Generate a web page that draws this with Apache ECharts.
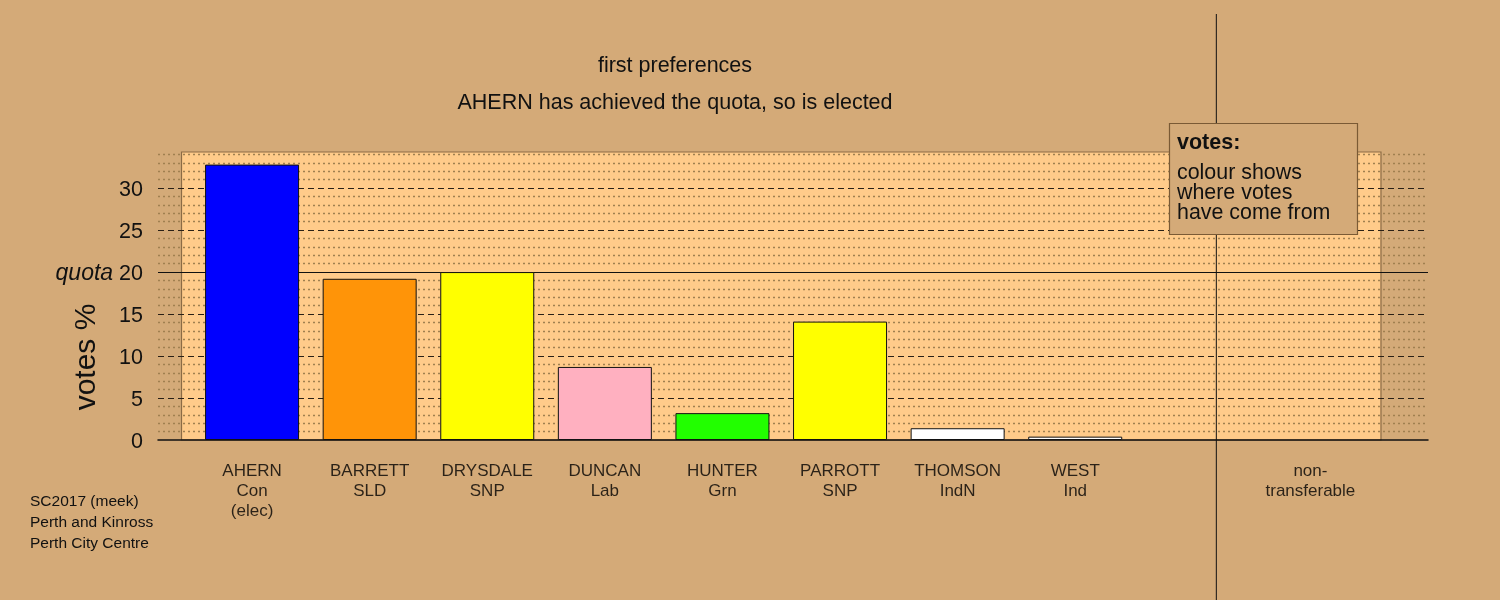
<!DOCTYPE html>
<html>
<head>
<meta charset="utf-8">
<script src="https://cdn.jsdelivr.net/npm/echarts@6/dist/echarts.min.js"></script>
<style>
  html, body { margin: 0; padding: 0; background: #D4AA78; }
  #chart { width: 1500px; height: 600px; }
</style>
</head>
<body>
<div id="chart"></div>
<script>
// ---- data ----
var candidates = ['AHERN', 'BARRETT', 'DRYSDALE', 'DUNCAN', 'HUNTER', 'PARROTT', 'THOMSON', 'WEST'];
var parties    = ['Con', 'SLD', 'SNP', 'Lab', 'Grn', 'SNP', 'IndN', 'Ind'];
var statuses   = ['(elec)', '', '', '', '', '', '', ''];
var votes      = [32.8, 19.2, 20.0, 8.7, 3.2, 14.1, 1.4, 0.4];
var barColors  = ['#0000FF', '#FF9408', '#FFFF00', '#FFB0C0', '#22FF00', '#FFFF00', '#FFFFFF', '#FFFFFF'];
var slotPos    = [1, 2, 3, 4, 5, 6, 7, 8];
var nonTransferableLabel = 'non-\ntransferable';
var nonTransferablePos = 10;
var nonTransferableVotes = 0;
var dividerPos = 9.2;
var quota = 20;
var yTicks = [0, 5, 10, 15, 20, 25, 30];
var titleLines = ['first preferences', 'AHERN has achieved the quota, so is elected'];
var footerLines = ['SC2017 (meek)', 'Perth and Kinross', 'Perth City Centre'];
var legendTitle = 'votes:';
var legendLines = ['colour shows', 'where votes', 'have come from'];

var BG = '#D4AA78';
var FONT = '"Liberation Sans", Arial, sans-serif';

var chart = echarts.init(document.getElementById('chart'), null, { renderer: 'canvas' });

var barData = candidates.map(function (c, i) {
  return { value: [slotPos[i], votes[i]], itemStyle: { color: barColors[i] } };
});
var labelData = candidates.map(function (c, i) {
  return { value: [slotPos[i], 0], name: c + '\n' + parties[i] + (statuses[i] ? '\n' + statuses[i] : '') };
});
labelData.push({ value: [nonTransferablePos, nonTransferableVotes], name: nonTransferableLabel });

var option = {
  backgroundColor: BG,
  animation: false,
  textStyle: { fontFamily: FONT },
  title: [
    { text: titleLines[0], left: 675, top: 55, textAlign: 'center', padding: 0,
      textStyle: { fontSize: 21.5, fontWeight: 'normal', color: '#111', fontFamily: FONT } },
    { text: titleLines[1], left: 675, top: 92, textAlign: 'center', padding: 0,
      textStyle: { fontSize: 21.5, fontWeight: 'normal', color: '#111', fontFamily: FONT } }
  ],
  grid: { left: 158, right: 72, top: 152, bottom: 160, containLabel: false },
  xAxis: {
    type: 'value', min: 0.2, max: 11, z: 1.5,
    axisLine: { show: true, onZero: true, lineStyle: { color: '#111', width: 1.5 } },
    axisTick: { show: false }, axisLabel: { show: false }, splitLine: { show: false }
  },
  yAxis: {
    type: 'value', min: 0, max: 34.3, interval: 5, z: 1.5,
    axisLine: { show: false }, axisTick: { show: false },
    axisLabel: {
      margin: 15, fontSize: 21.5, color: '#111', fontFamily: FONT, showMaxLabel: false,
      padding: [4, 0, 0, 0],
      formatter: function (v) {
        if (yTicks.indexOf(v) < 0) return '';
        if (v === quota) return '{q|quota} {n|' + v + '}';
        return '{n|' + v + '}';
      },
      rich: {
        q: { fontStyle: 'italic', fontSize: 23, color: '#111', fontFamily: FONT },
        n: { fontSize: 21.5, color: '#111', fontFamily: FONT }
      }
    },
    splitLine: { show: true, showMaxLine: false, showMinLine: false,
      lineStyle: { color: '#2a2016', width: 1, type: [6, 4] } },
    minorTick: { show: false, splitNumber: 5 },
    minorSplitLine: { show: true, lineStyle: { color: '#a08050', width: 1.3, type: [2, 3] } }
  },
  series: [
    {
      type: 'bar', z: 2,
      data: barData,
      barWidth: 94,
      itemStyle: { borderColor: '#111', borderWidth: 1 },
      markArea: {
        silent: true, z: 1,
        itemStyle: { color: '#FFCB8A', borderColor: '#8B6B45', borderWidth: 1.2 },
        label: { show: false },
        data: [[{ coord: [0.4, 0] }, { coord: [10.6, 34.3] }]]
      },
      markLine: {
        silent: true, z: 1.8, symbol: 'none',
        label: { show: false },
        lineStyle: { color: '#111', width: 1.2, type: 'solid' },
        data: [{ yAxis: quota }]
      }
    },
    {
      type: 'scatter', z: 3,
      data: labelData,
      symbolSize: 1,
      itemStyle: { color: 'rgba(0,0,0,0)' },
      label: {
        show: true, position: 'bottom', distance: 21,
        formatter: function (p) { return p.name; },
        fontSize: 17, lineHeight: 20, color: '#000', align: 'center', fontFamily: FONT
      }
    }
  ]
};
chart.setOption(option);

var divX = chart.convertToPixel({ xAxisIndex: 0 }, dividerPos);
var graphics = [
  { type: 'line', z: 10, shape: { x1: divX, y1: 14, x2: divX, y2: 600 },
    style: { stroke: '#111', lineWidth: 1 } },
  { type: 'rect', z: 20, shape: { x: 1169.5, y: 123.5, width: 188, height: 111 },
    style: { fill: BG, stroke: '#7a5a35', lineWidth: 1.2 } },
  { type: 'text', z: 21, left: 1177, top: 132,
    style: { text: legendTitle, font: 'bold 21.5px ' + FONT, fill: '#111' } },
  { type: 'text', z: 21, left: 1177, top: 163,
    style: { text: legendLines.join('\n'), font: '21.4px ' + FONT, lineHeight: 20, fill: '#111' } },
  { type: 'text', z: 21, left: 30, top: 491,
    style: { text: footerLines.join('\n'), font: '15.5px ' + FONT, lineHeight: 21, fill: '#111' } },
  { type: 'text', z: 21, x: 87, y: 357, rotation: Math.PI / 2,
    style: { text: 'votes %', font: '30px ' + FONT, fill: '#111', align: 'center', verticalAlign: 'middle' } }
];
chart.setOption({ graphic: graphics });
</script>
</body>
</html>
